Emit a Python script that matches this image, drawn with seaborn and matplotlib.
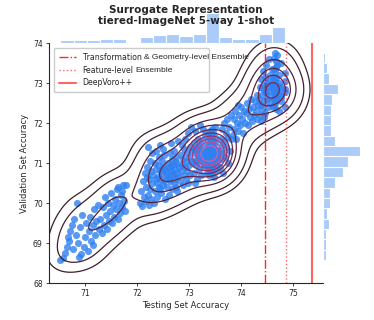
import matplotlib
matplotlib.use("Agg")
import matplotlib.pyplot as plt
import seaborn as sns
import pandas as pd
import numpy as np

# %%
#------------------------
# Data
#------------------------
# bottom-left cluster
cluster_a_x = [70.53, 70.58, 70.62, 70.66, 70.70, 70.72, 70.75, 70.68, 70.77,
               70.80, 70.84, 70.82, 70.86, 70.88, 70.90, 70.93, 70.95, 70.98, 71.00, 71.02,
               71.06, 71.08, 71.10, 71.12, 71.15, 71.18, 71.20, 71.22, 71.25, 71.27, 71.16,
               71.30, 71.32, 71.34, 71.36, 71.38, 71.40, 71.42, 71.44, 71.46, 71.48, 71.50, 71.52, 71.54,
               71.56, 71.58, 71.60, 71.62, 71.64, 71.66, 71.68, 71.70, 71.72, 71.74, 71.76, 71.78, 71.79, 71.63, 71.71]
cluster_a_y = [68.57, 68.62, 68.75, 68.90, 69.05, 69.30, 69.45, 69.15, 68.85,
               69.60, 69.99, 69.20, 69.00, 68.65, 69.40, 68.72, 69.70, 68.90, 69.15, 69.50,
               68.80, 69.30, 69.65, 69.05, 69.45, 69.85, 69.20, 69.55, 69.95, 69.35, 68.95,
               69.60, 69.25, 69.90, 69.45, 70.15, 69.70, 69.35, 70.00, 69.55, 69.80, 70.25, 69.50, 69.95,
               69.65, 70.10, 69.85, 70.35, 69.60, 70.00, 69.75, 70.20, 69.90, 70.45, 70.05, 69.80, 70.45, 70.40, 70.30]

# middle cluster
cluster_b_x = [72.06, 72.08, 72.10, 72.11, 72.13, 72.15, 72.17, 72.18, 72.20, 72.21,
               72.23, 72.24, 72.25, 72.26, 72.27, 72.28, 72.29, 72.30, 72.22, 72.19,
               72.32, 72.33, 72.34, 72.35, 72.36, 72.37, 72.38, 72.39, 72.40, 72.41,
               72.42, 72.43, 72.44, 72.45, 72.46, 72.47, 72.48, 72.49, 72.50, 72.51,
               72.52, 72.53, 72.54, 72.55, 72.36, 72.44, 72.50,
               72.57, 72.58, 72.59, 72.60, 72.61, 72.62, 72.63, 72.64, 72.65, 72.66,
               72.67, 72.68, 72.69, 72.70, 72.71, 72.72, 72.73, 72.74, 72.75, 72.76,
               72.77, 72.78, 72.79, 72.80, 72.81, 72.58, 72.62, 72.66, 72.70, 72.74, 72.78,
               72.83, 72.84, 72.85, 72.86, 72.87, 72.88, 72.89, 72.90, 72.91, 72.92,
               72.93, 72.94, 72.95, 72.96, 72.97, 72.98, 72.99, 73.00, 73.01, 73.02,
               73.03, 73.04, 73.05, 73.06]
cluster_b_y = [70.00, 70.30, 69.92, 70.55, 70.15, 70.75, 70.05, 70.40, 70.90, 70.20,
               70.60, 69.95, 71.05, 70.35, 70.80, 70.10, 71.25, 70.50, 71.40, 70.65,
               70.70, 70.00, 71.00, 70.30, 70.85, 71.30, 70.50, 70.15, 70.95, 70.65,
               71.15, 70.40, 70.80, 71.45, 70.25, 70.60, 71.05, 70.75, 70.45, 70.90,
               71.20, 70.55, 70.10, 70.85, 70.60, 70.35, 71.35,
               70.70, 70.40, 71.00, 70.65, 70.20, 70.90, 71.25, 70.55, 70.80, 71.50,
               70.35, 71.10, 70.70, 70.95, 70.50, 71.30, 70.85, 70.60, 71.15, 70.40,
               70.75, 71.00, 71.55, 70.65, 70.90, 70.80, 70.60, 70.95, 70.75, 71.05, 70.30,
               70.55, 71.20, 70.80, 71.45, 70.95, 70.45, 71.10, 70.70, 71.35, 70.90,
               71.60, 70.60, 71.05, 71.25, 70.80, 71.75, 70.50, 71.15, 70.95, 71.40,
               70.70, 71.90, 71.05, 71.30]

# central dense cluster
cluster_c_x = [73.08, 73.09, 73.10, 73.11, 73.12, 73.13, 73.14, 73.15, 73.16, 73.17,
               73.18, 73.19, 73.20, 73.21, 73.22, 73.23, 73.24, 73.25, 73.26, 73.27,
               73.28, 73.29, 73.30, 73.31, 73.10, 73.14, 73.18, 73.22, 73.26, 73.30, 73.12, 73.28,
               73.34, 73.36, 73.38, 73.40, 73.41, 73.42, 73.43, 73.44, 73.45, 73.46, 73.48, 73.51, 73.55,
               73.34, 73.36, 73.38, 73.40, 73.41, 73.42, 73.43, 73.44, 73.45, 73.46, 73.48, 73.51, 73.55,
               73.34, 73.36, 73.38, 73.40, 73.41, 73.42, 73.43, 73.44, 73.45, 73.46, 73.48, 73.51, 73.55,
               73.34, 73.36, 73.38, 73.40, 73.41, 73.42, 73.43, 73.44, 73.45, 73.46, 73.48, 73.51, 73.55,
               73.34, 73.36, 73.38, 73.40, 73.41, 73.42, 73.43, 73.44, 73.45, 73.46, 73.48, 73.51, 73.55,
               73.34, 73.36, 73.38, 73.40, 73.41, 73.42, 73.43, 73.44, 73.45, 73.46, 73.48, 73.51, 73.55,
               73.34, 73.36, 73.38, 73.40, 73.41, 73.42, 73.43, 73.44, 73.45, 73.46, 73.48, 73.51, 73.55,
               73.34, 73.36, 73.38, 73.40, 73.41, 73.42, 73.43, 73.44, 73.45, 73.46, 73.48, 73.51, 73.55,
               73.59, 73.60, 73.61, 73.62, 73.63, 73.64, 73.65, 73.66, 73.67, 73.68,
               73.70, 73.71, 73.72, 73.74, 73.75, 73.76, 73.78, 73.79, 73.81, 73.82]
cluster_c_y = [71.00, 71.50, 70.75, 71.25, 71.80, 70.95, 71.35, 70.60, 71.10, 71.60,
               71.20, 70.85, 71.45, 71.05, 71.95, 71.30, 70.70, 71.15, 71.55, 71.00,
               71.40, 71.20, 70.90, 71.70, 71.35, 71.05, 71.40, 71.15, 71.30, 71.10, 70.50, 71.85,
               71.25, 71.22, 71.28, 71.24, 71.26, 71.23, 71.27, 71.25, 71.21, 71.29, 71.24, 71.26, 71.22,
               71.15, 71.35, 71.12, 71.38, 71.18, 71.32, 71.16, 71.34, 71.14, 71.36, 71.20, 71.30, 71.18,
               71.05, 71.45, 71.02, 71.48, 71.08, 71.42, 71.06, 71.44, 71.10, 71.40, 71.00, 71.50, 71.10,
               71.28, 71.20, 71.30, 71.18, 71.26, 71.22, 71.30, 71.20, 71.28, 71.22, 71.32, 71.18, 71.26,
               70.92, 71.58, 70.88, 71.62, 70.95, 71.55, 70.90, 71.60, 70.96, 71.54, 70.85, 71.65, 70.95,
               71.20, 71.30, 71.15, 71.34, 71.22, 71.28, 71.18, 71.32, 71.24, 71.26, 71.16, 71.36, 71.20,
               70.75, 71.75, 70.70, 71.80, 70.80, 71.72, 70.78, 71.85, 70.72, 71.78, 70.65, 71.90, 70.82,
               71.10, 71.40, 71.35, 71.12, 71.30, 71.14, 71.38, 71.16, 71.42, 71.08, 71.36, 71.12, 71.32,
               71.30, 70.90, 71.60, 71.10, 71.85, 71.45, 70.75, 71.25, 72.00, 71.55,
               71.15, 71.75, 71.40, 72.10, 71.00, 71.65, 71.90, 71.30, 72.20, 71.60]

# band towards the top cluster
cluster_d_x = [73.84, 73.86, 73.87, 73.89, 73.90, 73.92, 73.94, 73.95, 73.97, 73.99,
               74.01, 74.03, 74.05, 74.06, 74.08,
               74.10, 74.12, 74.13, 74.15, 74.17, 74.19, 74.21, 74.23, 74.25, 74.27,
               74.29, 74.31, 74.32, 74.33]
cluster_d_y = [71.70, 72.10, 71.85, 72.30, 71.60, 72.00, 72.45, 71.80, 72.20, 71.95,
               72.40, 72.10, 71.75, 72.30, 72.00,
               72.25, 72.50, 71.95, 72.35, 72.15, 72.60, 72.05, 72.40, 72.20, 72.55,
               72.30, 72.70, 72.10, 72.45]

# top cluster
cluster_e_x = [74.35, 74.36, 74.37, 74.38, 74.39, 74.40, 74.41, 74.42, 74.43, 74.44,
               74.45, 74.46, 74.47, 74.48, 74.49, 74.50, 74.51, 74.52, 74.53, 74.54,
               74.55, 74.56, 74.57, 74.58, 74.59, 74.38, 74.44, 74.50, 74.56, 74.46,
               74.61, 74.63, 74.64, 74.65, 74.66, 74.67, 74.68, 74.70, 74.73, 74.78, 74.85,
               74.61, 74.63, 74.64, 74.65, 74.66, 74.67, 74.68, 74.70, 74.73, 74.78, 74.85,
               74.61, 74.63, 74.64, 74.65, 74.66, 74.67, 74.68, 74.70, 74.73, 74.78, 74.85,
               74.61, 74.63, 74.64, 74.65, 74.66, 74.67, 74.68, 74.70, 74.73, 74.78, 74.85,
               74.61, 74.63, 74.64, 74.65, 74.66, 74.67, 74.68, 74.70, 74.73, 74.78, 74.85]
cluster_e_y = [72.60, 72.20, 72.90, 72.45, 73.10, 72.70, 72.35, 72.85, 73.30, 72.55,
               72.95, 72.25, 73.15, 72.75, 73.45, 72.60, 72.90, 73.05, 72.40, 73.60,
               72.80, 73.20, 72.65, 72.95, 73.35, 72.05, 72.15, 73.00, 72.50, 72.80,
               72.85, 72.88, 72.82, 72.86, 72.84, 72.87, 72.83, 72.85, 72.80, 72.90, 72.78,
               72.95, 72.75, 72.98, 72.72, 72.92, 72.78, 72.96, 72.74, 73.00, 72.70, 73.05,
               73.10, 72.60, 73.15, 72.62, 73.05, 72.65, 73.12, 72.58, 73.20, 72.55, 73.25,
               72.40, 73.35, 72.45, 73.30, 72.50, 73.40, 72.35, 73.45, 72.30, 73.50, 72.40,
               72.90, 73.62, 72.80, 73.76, 72.88, 73.55, 72.82, 73.70, 72.92, 72.65, 72.86]

# reference methods (testing accuracy); labels were split in the original legend
ref_labels = ["Transformation", "Feature-level", "DeepVoro++"]
ref_label_tails = ["& Geometry-level Ensemble", "Ensemble", ""]
ref_values = [74.47, 74.87, 75.37]
ref_styles = ["-.", ":", "-"]

# %%
df = pd.DataFrame({
    "test": cluster_a_x + cluster_b_x + cluster_c_x + cluster_d_x + cluster_e_x,
    "val": cluster_a_y + cluster_b_y + cluster_c_y + cluster_d_y + cluster_e_y,
})

sns.set_style("ticks")
plt.rcParams['font.family'] = ['DejaVu Sans']

blue = "#2f80f0"
kde_cmap = sns.blend_palette(["#3a1f2b", "#7c2752", "#e8559f"], as_cmap=True)

g = sns.JointGrid(data=df, x="test", y="val", height=3.2, space=0)
fig = g.figure
fig.set_size_inches(3.74, 3.2)
g.ax_joint.set_position([0.131, 0.1156, 0.7326, 0.75])
g.ax_marg_x.set_position([0.131, 0.8656, 0.7326, 0.099])
g.ax_marg_y.set_position([0.8636, 0.1156, 0.104, 0.75])

ax = g.ax_joint
sns.scatterplot(data=df, x="test", y="val", ax=ax, color=blue, s=26, alpha=0.8, linewidth=0)

#------------------------
# KDE contours (axis-aligned kernel, density levels like old seaborn)
#------------------------
hx, hy = 0.26, 0.3
gx = np.linspace(69.8, 76.0, 320)
gy = np.linspace(67.6, 74.4, 320)
kx = np.exp(-0.5 * ((gx[:, None] - df["test"].values[None, :]) / hx) ** 2)
ky = np.exp(-0.5 * ((gy[:, None] - df["val"].values[None, :]) / hy) ** 2)
dens = ky @ kx.T / (2 * np.pi * hx * hy * len(df))
level_fracs = [0.022, 0.058, 0.15, 0.25, 0.35, 0.45, 0.55, 0.65, 0.76, 0.88]
ax.contour(gx, gy, dens, levels=dens.max() * np.array(level_fracs),
           cmap=kde_cmap, linewidths=0.9)

sns.histplot(data=df, x="test", ax=g.ax_marg_x, bins=17, color=blue, alpha=0.4,
             edgecolor="white", linewidth=0.8)
sns.histplot(data=df, y="val", ax=g.ax_marg_y, bins=20, color=blue, alpha=0.4,
             edgecolor="white", linewidth=0.8)

alphas = [0.85, 0.6, 0.6]
widths = [1.0, 1.0, 1.5]
for lab, v, ls, a, w in zip(ref_labels, ref_values, ref_styles, alphas, widths):
    ax.axvline(v, color="red", linestyle=ls, alpha=a, linewidth=w, label=lab)

ax.set_xlim(70.31, 75.58)
ax.set_ylim(68, 74)
ax.set_xticks([71, 72, 73, 74, 75])
ax.set_yticks([68, 69, 70, 71, 72, 73, 74])
ax.tick_params(labelsize=5.5, length=2.5, width=0.6, pad=2)
for s in ["left", "bottom"]:
    ax.spines[s].set_linewidth(0.8)
ax.set_xlabel("Testing Set Accuracy", fontsize=6, labelpad=2)
ax.set_ylabel("Validation Set Accuracy", fontsize=6, labelpad=3)
leg = ax.legend(loc="upper left", bbox_to_anchor=(0.018, 0.5, 0.566, 0.479), mode="expand",
                borderaxespad=0, fontsize=5.6, handlelength=2.3, handletextpad=0.8,
                borderpad=0.6, labelspacing=0.5, framealpha=1)

for m in [g.ax_marg_x, g.ax_marg_y]:
    for s in m.spines.values():
        s.set_visible(False)
    m.tick_params(length=0)
    m.set_xlabel("")
    m.set_ylabel("")

fig.suptitle("Surrogate Representation\ntiered-ImageNet 5-way 1-shot",
             x=0.497, y=0.985, fontsize=7.5, fontweight="bold", va="top")

# second half of the legend labels, as in the original
fig.canvas.draw()
renderer = fig.canvas.get_renderer()
W, H = fig.bbox.width, fig.bbox.height
for txt, tail in zip(leg.get_texts(), ref_label_tails):
    if not tail:
        continue
    bb = txt.get_window_extent(renderer)
    fig.text((bb.x1 + 2) / W, (bb.y0 + bb.y1) / 2 / H, tail, fontsize=6.0,
             family=["Liberation Sans", "DejaVu Sans"], va="center", ha="left", color=".15")

fig.savefig("out.png", dpi=100)
